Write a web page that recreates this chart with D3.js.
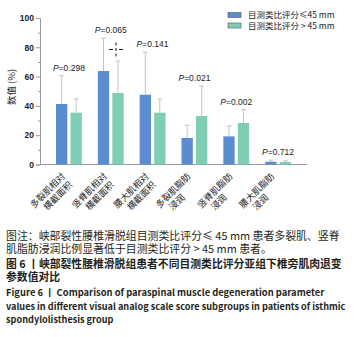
<!DOCTYPE html>
<html>
<head>
<meta charset="utf-8">
<script src="https://cdn.jsdelivr.net/npm/d3@7"></script>
<style>
  body { margin: 0; background: #fff; }
  svg { display: block; }
</style>
</head>
<body>
<script>
// chart data
var categories = [
    ["多裂肌相对", "横截面积"],
    ["竖脊肌相对", "横截面积"],
    ["腰大肌相对", "横截面积"],
    ["多裂肌脂肪", "浸润"],
    ["竖脊肌脂肪", "浸润"],
    ["腰大肌脂肪", "浸润"]
];
var seriesNames = ["目测类比评分≤45 mm", "目测类比评分 > 45 mm"];
var lowValues = [41.3, 63.8, 47.6, 18.1, 19.2, 1.9];
var lowErr = [19.3, 22.3, 29.0, 8.7, 7.1, 1.1];
var highValues = [35.4, 48.8, 35.4, 33.1, 28.3, 1.7];
var highErr = [9.3, 21.8, 9.3, 20.5, 9.1, 0.8];
var pValues = ["0.298", "0.065", "0.141", "0.021", "0.002", "0.712"];
var yTicks = [0, 20, 40, 60, 80, 100];
var yMinorTicks = [10, 30, 50, 70, 90];

// caption lines; target widths
var captionLines = [
    { text: "图注：峡部裂性腰椎滑脱组目测类比评分≤ 45 mm 患者多裂肌、竖脊", bold: false, w: 334 },
    { text: "肌脂肪浸润比例显著低于目测类比评分 > 45 mm 患者。", bold: false, w: 0 },
    { text: "图 6 丨峡部裂性腰椎滑脱组患者不同目测类比评分亚组下椎旁肌肉退变", bold: true, w: 336 },
    { text: "参数值对比", bold: true, w: 0 },
    { text: "Figure 6 丨 Comparison of paraspinal muscle degeneration parameter", bold: true, w: 319 },
    { text: "values in different visual analog scale score subgroups in patients of isthmic", bold: true, w: 340 },
    { text: "spondylolisthesis group", bold: true, w: 0 }
];

var colors = ["#5a8ccf", "#80cdb5"];
var cjk = "'Noto Sans CJK SC', 'Liberation Sans', sans-serif";
var latin = "'Liberation Sans', Arial, sans-serif";

document.addEventListener('DOMContentLoaded', draw);

function draw() {
    let width = 361;
    let height = 337;

    let dataset = categories.map((c, i) => {
        return {
            idx: i,
            label: c,
            bars: [
                { s: 0, value: lowValues[i], err: lowErr[i] },
                { s: 1, value: highValues[i], err: highErr[i] }
            ],
            p: pValues[i]
        };
    });

    let svg = d3.select("body")
        .append("svg")
        .attr("width", width)
        .attr("height", height);

    let yScale = d3.scaleLinear()
        .domain([0, 100])
        .range([164.5, 18]);

    let xScale = d3.scaleBand()
        .domain(d3.range(categories.length))
        .range([48, 299]);

    let xSub = d3.scaleBand()
        .domain([0, 1])
        .range([8, xScale.bandwidth() - 8])
        .paddingInner(0.22);

    // y axis
    let yAxis = d3.axisLeft(yScale)
        .tickValues(yTicks)
        .tickSize(4)
        .tickPadding(2);
    let gy = svg.append("g")
        .attr("transform", "translate(40,0)")
        .call(yAxis);
    gy.select(".domain").attr("stroke", "#999");
    gy.selectAll(".tick line").attr("stroke", "#999");
    gy.selectAll(".tick text")
        .attr("font-family", latin)
        .attr("font-size", "8.5px")
        .attr("font-weight", "bold")
        .attr("fill", "#222");

    gy.selectAll(".minor")
        .data(yMinorTicks)
        .enter()
        .append("line")
        .attr("class", "minor")
        .attr("x1", -2)
        .attr("x2", 0)
        .attr("y1", (d) => yScale(d) + 0.5)
        .attr("y2", (d) => yScale(d) + 0.5)
        .attr("stroke", "#999");

    svg.append("text")
        .attr("transform", "translate(15," + yScale(53) + ") rotate(-90)")
        .attr("text-anchor", "middle")
        .attr("font-family", cjk)
        .attr("font-size", "9.5px")
        .attr("fill", "#222")
        .text("数值 (%)");

    // x axis line
    svg.append("line")
        .attr("x1", 40)
        .attr("x2", 307)
        .attr("y1", yScale(0))
        .attr("y2", yScale(0))
        .attr("stroke", "#999");

    let groups = svg.selectAll(".grp")
        .data(dataset)
        .enter()
        .append("g")
        .attr("class", "grp")
        .attr("transform", (d) => "translate(" + xScale(d.idx) + ",0)");

    // error bars
    groups.selectAll(".err")
        .data((d) => d.bars)
        .enter()
        .append("path")
        .attr("class", "err")
        .attr("d", (d) => {
            let cx = xSub(d.s) + xSub.bandwidth() / 2;
            let y0 = yScale(d.value);
            let y1 = yScale(d.value + d.err);
            return "M" + cx + "," + y0 + "V" + y1 + "M" + (cx - 2.5) + "," + y1 + "H" + (cx + 2.5);
        })
        .attr("stroke", "#c4c4c4")
        .attr("stroke-width", 1)
        .attr("fill", "none");

    // bars
    groups.selectAll("rect")
        .data((d) => d.bars)
        .enter()
        .append("rect")
        .attr("x", (d) => xSub(d.s))
        .attr("y", (d) => yScale(d.value))
        .attr("width", xSub.bandwidth())
        .attr("height", (d) => yScale(0) - yScale(d.value))
        .attr("fill", (d) => colors[d.s]);

    // P labels
    let pText = groups.append("text")
        .attr("x", xScale.bandwidth() / 2)
        .attr("y", (d) => {
            let top = d3.max(d.bars, (b) => b.value + b.err);
            return yScale(top) - 5;
        })
        .attr("text-anchor", "middle")
        .attr("font-family", latin)
        .attr("font-size", "8.5px")
        .attr("fill", "#222");
    pText.append("tspan").attr("font-style", "italic").text("P");
    pText.append("tspan").text((d) => "=" + d.p);

    // category labels, rotated
    let lab = groups.append("g")
        .attr("transform", "translate(" + (xScale.bandwidth() / 2) + "," + yScale(0) + ") rotate(-45)");
    lab.each(function (d) {
        let g = d3.select(this);
        let t1 = g.append("text")
            .attr("font-family", cjk)
            .attr("font-size", "9px")
            .attr("fill", "#222")
            .attr("text-anchor", "start")
            .attr("y", 6.5)
            .text(d.label[0]);
        let w = t1.node().getComputedTextLength();
        let x0 = -11 - w;
        t1.attr("x", x0);
        g.append("text")
            .attr("font-family", cjk)
            .attr("font-size", "9px")
            .attr("fill", "#222")
            .attr("text-anchor", "start")
            .attr("x", x0 + 8)
            .attr("y", 17.5)
            .text(d.label[1]);
    });

    // legend
    let legend = svg.selectAll(".leg")
        .data(seriesNames)
        .enter()
        .append("g")
        .attr("class", "leg")
        .attr("transform", (d, i) => "translate(228," + (12.5 + i * 10.5) + ")");
    legend.append("rect")
        .attr("width", 13)
        .attr("height", 5)
        .attr("fill", (d, i) => colors[i])
        .attr("stroke", "#555")
        .attr("stroke-width", 0.6);
    legend.append("text")
        .attr("x", 20)
        .attr("y", 5.5)
        .attr("font-family", cjk)
        .attr("font-size", "8.5px")
        .attr("fill", "#222")
        .text((d) => d);

    // cursor mark left in the figure
    let cur = svg.append("g")
        .attr("transform", "translate(116," + yScale(78.5) + ")")
        .attr("stroke", "#111")
        .attr("stroke-width", 1);
    cur.append("line").attr("x1", -7).attr("x2", -3).attr("y1", 0).attr("y2", 0);
    cur.append("line").attr("x1", 3).attr("x2", 7).attr("y1", 0).attr("y2", 0);
    cur.append("line").attr("x1", 0).attr("x2", 0).attr("y1", -7).attr("y2", -4);
    cur.append("line").attr("x1", 0).attr("x2", 0).attr("y1", -1.5).attr("y2", 1.5);
    cur.append("line").attr("x1", 0).attr("x2", 0).attr("y1", 4).attr("y2", 7);

    // caption: each full line sized to its width in the picture
    let lineY = [240, 253, 267.5, 281, 295.5, 309.5, 323];
    let caps = svg.selectAll(".cap")
        .data(captionLines)
        .enter()
        .append("text")
        .attr("class", "cap")
        .attr("x", 6)
        .attr("y", (d, i) => lineY[i])
        .attr("font-family", cjk)
        .attr("font-size", "10px")
        .attr("font-weight", (d) => d.bold ? "bold" : "normal")
        .attr("fill", "#231f20")
        .text((d) => d.text);

    let sizes = [];
    caps.each(function (d, i) {
        if (d.w) {
            let len = this.getComputedTextLength();
            sizes[i] = 10 * d.w / len;
        }
    });
    // short lines follow the size of the line before them
    caps.attr("font-size", (d, i) => {
        let s = sizes[i] || sizes[i - 1];
        return Math.min(s, 11) + "px";
    });
}
</script>
</body>
</html>
